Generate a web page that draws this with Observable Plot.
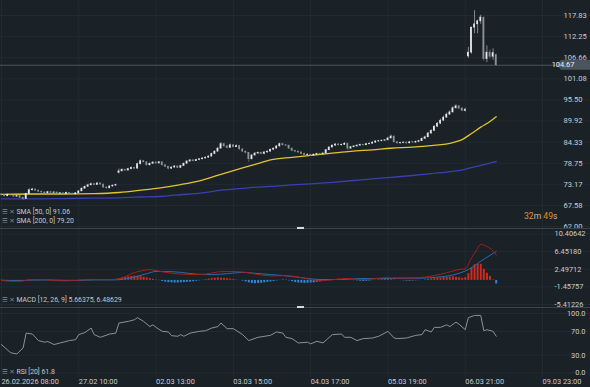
<!DOCTYPE html>
<html><head><meta charset="utf-8">
<script src="https://cdn.jsdelivr.net/npm/d3@7"></script>
<script src="https://cdn.jsdelivr.net/npm/@observablehq/plot@0.6"></script>
<style>
html,body{margin:0;padding:0;background:#1a2127;}
#chart{position:relative;width:590px;height:387px;background:#1a2127;overflow:hidden;font-family:Roboto,"DejaVu Sans",sans-serif;}
.pane{position:absolute;left:0;width:590px;}
.pane svg{display:block;background:transparent;overflow:visible;}
.sep{border-top:1px solid #3b444c;}
.handle{position:absolute;left:297px;width:7px;height:2px;background:#d8dcdf;}
.leg{position:absolute;left:2px;font-size:6.9px;color:#c3c8cd;white-space:pre;line-height:8px;}
.leg .ic{color:#858c93;font-size:6.4px;}
#timer{position:absolute;left:524px;top:211px;font-size:8.6px;line-height:11px;white-space:pre;}
</style></head><body><div id="chart"></div>
<script>
// ---------- DATA ----------
const openP = [70.5,70.3,70.0,70.4,70.2,69.9,70.1,69.6,69.3,70.6,71.6,71.8,71.5,71.2,71.0,70.8,71.1,70.9,71.0,70.7,
70.8,70.6,70.9,70.7,70.5,70.8,71.3,72.0,72.5,72.9,73.2,73.0,73.4,73.1,72.3,72.1,72.6,72.8,76.2,76.6,
77.0,76.8,77.2,77.5,77.3,78.5,79.3,79.0,78.2,78.6,78.9,78.7,79.0,78.2,77.8,77.3,77.6,77.9,77.5,78.0,
78.6,79.2,79.5,79.3,79.6,79.8,80.0,80.2,80.5,81.2,81.8,82.6,83.8,83.2,82.8,83.5,83.0,83.3,82.4,81.8,
81.5,79.8,80.8,81.3,81.5,81.2,81.6,81.8,82.3,82.6,83.2,83.8,83.5,83.4,82.6,82.0,81.8,81.6,81.2,80.9,
81.0,80.8,81.0,81.2,81.1,81.3,82.2,82.9,83.4,83.7,83.5,83.6,83.9,82.6,83.0,83.2,83.4,83.6,83.5,83.8,
83.9,84.2,84.5,84.6,84.7,84.8,85.3,85.8,84.3,84.0,84.1,84.2,84.0,84.3,84.2,84.4,84.6,85.2,85.6,86.6,
87.3,88.4,89.2,90.0,90.8,91.6,92.2,93.3,93.8,93.2,92.6,107.0,108.0,114.6,115.5,116.3,117.2,106.3,108.0,106.9,
107.4];
const highP = [70.7,70.5,70.6,70.6,70.3,70.3,70.2,69.8,70.8,72.0,72.1,71.9,71.6,71.4,71.2,71.3,71.2,71.2,71.1,71.0,
70.9,71.1,71.0,70.8,71.0,71.5,72.2,72.7,73.2,73.5,73.4,73.6,73.5,73.2,72.5,72.8,73.0,73.2,77.2,77.3,
77.2,77.4,77.8,77.7,78.8,79.6,79.5,79.1,78.8,79.2,79.1,79.2,79.1,78.4,77.9,77.8,78.1,78.0,78.2,78.8,
79.4,79.7,79.7,79.8,80.0,80.2,80.4,80.7,81.4,82.0,82.9,84.2,84.0,83.4,83.8,83.7,83.6,83.4,82.6,82.0,
81.6,81.0,81.5,81.7,81.7,81.8,82.0,82.5,82.8,83.4,84.1,84.0,83.7,83.5,82.8,82.2,82.0,81.7,81.4,81.2,
81.1,81.2,81.4,81.4,81.5,82.4,83.1,83.6,83.9,83.9,83.8,84.2,84.0,83.2,83.4,83.6,83.8,83.8,84.0,84.1,
84.4,84.7,84.8,84.9,85.0,85.6,86.2,85.9,84.5,84.3,84.4,84.4,84.5,84.5,84.6,84.8,85.4,85.9,86.9,87.6,
88.7,89.5,90.4,91.2,92.0,92.6,93.7,94.2,94.0,93.5,93.3,109.4,114.8,119.1,116.6,117.9,117.5,109.8,108.7,109.0,
107.6];
const lowP = [70.1,69.8,69.9,70.0,69.7,69.7,69.4,68.9,69.2,70.5,71.4,71.3,71.0,70.8,70.6,70.7,70.7,70.8,70.5,70.6,
70.4,70.5,70.5,70.3,70.4,70.7,71.2,71.9,72.4,72.8,72.8,72.9,72.9,72.1,71.9,72.0,72.4,72.7,75.9,76.4,
76.5,76.7,77.0,77.1,77.2,78.3,78.8,78.0,78.0,78.4,78.5,78.5,78.0,77.6,77.0,77.1,77.4,77.3,77.4,77.9,
78.5,79.0,79.1,79.2,79.4,79.6,79.9,80.1,80.4,81.0,81.7,82.5,83.0,82.5,82.7,82.8,82.9,82.2,81.6,81.2,
79.0,79.6,80.6,81.1,81.0,81.0,81.4,81.7,82.1,82.5,83.0,83.3,83.1,82.4,81.8,81.5,81.3,81.0,80.6,80.7,
80.5,80.6,80.9,80.9,81.0,81.2,82.0,82.8,83.2,83.3,83.3,83.5,82.0,82.4,82.8,83.0,83.2,83.3,83.4,83.6,
83.8,84.0,84.3,84.4,84.5,84.7,85.2,84.1,83.8,83.8,83.9,83.8,83.9,84.0,84.0,84.2,84.5,85.0,85.5,86.4,
87.1,88.2,89.0,89.8,90.6,91.4,92.0,93.0,92.9,92.4,92.3,106.5,107.6,113.0,113.0,115.5,105.8,105.4,106.3,106.0,
104.4];
const closeP = [70.3,70.0,70.4,70.2,69.9,70.1,69.6,69.3,70.6,71.6,71.8,71.5,71.2,71.0,70.8,71.1,70.9,71.0,70.7,70.8,
70.6,70.9,70.7,70.5,70.8,71.3,72.0,72.5,72.9,73.2,73.0,73.4,73.1,72.3,72.1,72.6,72.8,73.0,76.6,77.0,
76.8,77.2,77.5,77.3,78.5,79.3,79.0,78.2,78.6,78.9,78.7,79.0,78.2,77.8,77.3,77.6,77.9,77.5,78.0,78.6,
79.2,79.5,79.3,79.6,79.8,80.0,80.2,80.5,81.2,81.8,82.6,83.8,83.2,82.8,83.5,83.0,83.3,82.4,81.8,81.5,
79.8,80.8,81.3,81.5,81.2,81.6,81.8,82.3,82.6,83.2,83.8,83.5,83.4,82.6,82.0,81.8,81.6,81.2,80.9,81.0,
80.8,81.0,81.2,81.1,81.3,82.2,82.9,83.4,83.7,83.5,83.6,83.9,82.6,83.0,83.2,83.4,83.6,83.5,83.8,83.9,
84.2,84.5,84.6,84.7,84.8,85.3,85.8,84.3,84.0,84.1,84.2,84.0,84.3,84.2,84.4,84.6,85.2,85.6,86.6,87.3,
88.4,89.2,90.0,90.8,91.6,92.2,93.3,93.8,93.2,92.6,92.9,108.0,114.6,115.5,116.3,117.3,106.3,108.0,106.9,107.9,
104.67];
const lastPrice = 104.67;

const smaIdx = [0,10,20,30,38,45,52,58,65,71,78,84,87,94,100,107,113,120,126,133,139,146,149,152,155,158,160];
const sma50  = [70.5,70.6,70.6,70.7,71.0,71.6,72.3,73.1,74.3,75.8,77.5,78.9,79.6,80.3,80.8,81.4,81.9,82.3,82.7,83.0,83.4,84.2,85.0,86.6,88.3,89.8,91.06];
const sma200 = [69.3,69.3,69.4,69.5,69.6,69.8,70.0,70.4,70.9,71.6,72.1,72.5,72.6,73.0,73.3,73.7,74.1,74.6,75.0,75.5,76.0,76.6,77.0,77.6,78.2,78.8,79.20];

const macdHist = [0.05,0.02,-0.03,-0.15,-0.2,-0.22,-0.2,-0.15,0.05,0.12,0.18,0.2,0.18,0.12,0.05,-0.02,-0.08,-0.1,
-0.15,-0.18,-0.2,-0.15,-0.1,-0.05,0.0,0.05,0.08,0.12,0.18,0.22,0.2,0.18,0.12,0.08,0.02,-0.02,-0.03,0.02,
0.35,0.55,0.7,0.8,0.9,0.95,0.9,0.85,0.7,0.55,0.4,0.25,0.1,-0.05,
-0.25,-0.4,-0.5,-0.55,-0.6,-0.58,-0.55,-0.5,-0.45,-0.4,-0.3,-0.2,-0.1,
0.05,0.15,0.3,0.4,0.5,0.55,0.5,0.45,0.4,0.3,0.2,0.1,0.02,
-0.15,-0.35,-0.55,-0.7,-0.75,-0.72,-0.65,-0.55,-0.45,-0.35,-0.25,-0.12,0.05,0.15,0.1,
-0.1,-0.3,-0.5,-0.6,-0.65,-0.68,-0.65,-0.6,-0.55,-0.45,-0.35,-0.2,-0.05,
0.05,0.15,0.2,0.25,0.2,0.15,0.05,0.02,-0.05,-0.1,-0.2,-0.25,-0.2,-0.15,-0.05,
0.05,0.12,0.18,0.2,0.2,0.15,0.08,0.02,-0.05,-0.1,-0.15,-0.18,-0.15,-0.1,-0.05,0.0,
0.1,0.2,0.3,0.4,0.5,0.55,0.65,0.7,0.75,0.8,0.7,0.6,0.5,0.6,
1.5,2.8,3.5,3.6,3.6,2.5,1.6,0.9,0.1,-0.82];
const macdIdx = [0,3,6,10,14,17,21,26,30,35,38,40,42,45,48,50,53,58,63,66,70,74,79,84,88,91,95,97,101,103,108,112,116,120,124,129,135,140,144,148,150,152,154,155,157,159,160];
const macdVal = [0.0,-0.2,-0.2,0.2,0.2,-0.05,-0.1,0.1,0.2,0.15,0.4,0.8,1.5,2.1,2.4,2.2,1.8,1.4,1.3,1.4,1.9,2.0,1.8,1.2,1.0,1.05,0.9,0.6,0.1,-0.1,0.2,0.45,0.15,0.3,0.6,0.5,0.6,1.1,1.7,2.45,2.6,5.0,7.2,8.1,7.6,6.6,5.66];
const sigIdx = [0,5,10,15,20,25,30,37,42,47,50,53,58,63,68,73,78,82,87,91,97,103,110,116,123,129,136,141,146,150,152,155,158,160];
const sigVal = [0.05,-0.05,0.05,0.1,0.0,0.0,0.1,0.12,0.6,1.5,2.0,2.0,1.8,1.4,1.3,1.5,1.8,1.6,1.3,1.1,0.6,0.2,0.2,0.4,0.4,0.5,0.5,0.75,1.2,2.1,2.8,4.3,5.6,6.49];

const rsiIdx = [0,3,5,7,8,10,12,14,15,17,19,22,24,25,27,29,30,32,35,37,38,41,43,44,46,48,49,50,52,54,55,57,58,59,61,64,66,68,70,71,73,75,78,80,83,87,89,91,92,94,96,99,100,102,104,107,110,111,113,115,117,120,122,125,127,128,131,134,136,137,139,140,142,144,145,147,148,150,151,153,155,156,157,159,160];
const rsiVal = [47.8,34,32,42,67,65.5,54.5,51.7,53,47.8,50.5,54.5,56,64.5,68,75.5,64.5,60,65.5,67,84,86.7,89.5,93,86.7,78,81,76.7,70,69,62.8,61.7,64.5,61.7,67,70,71,75.5,78,84,74.5,74.5,64.5,54.5,60,63.3,69,67,60,57.8,50.5,51.7,49,53.3,50.5,64.5,65.5,60,60,54.5,57.8,58.8,61.7,70,58.8,57.8,58.8,63.3,64.5,72.8,69,76.7,76.7,81,78,85.5,82,72.8,93,96.7,96.7,71,72.8,70,61.8];

const priceTicks = [62.00,67.58,73.17,78.75,84.33,89.92,95.50,101.08,106.66,112.25,117.83];
const priceTickLabels = ["62.00","67.58","73.17","78.75","84.33","89.92","95.50","101.08","106.66","112.25","117.83"];
const macdTicks = [10.40642,6.45180,2.49712,-1.45757,-5.41226];
const macdTickLabels = ["10.40642","6.45180","2.49712","-1.45757","-5.41226"];
const rsiTicks = [100,70,30,0];
const rsiTickLabels = ["100.0","70.0","30.0","0.0"];
const timeIdx = [0,25,50,75,100,125,150,175];
const timeLabels = ["26.02.2026 08:00","27.02 10:00","02.03 13:00","03.03 15:00","04.03 17:00","05.03 19:00","06.03 21:00","09.03 23:00"];

// ---------- STYLE ----------
const GRID = "#222b33";
const TXT = "#c8cdd2";
const FONT = "Roboto, 'DejaVu Sans', sans-serif";
const X = {domain: [-0.3, 190.5], range: [0, 590], axis: null};
const baseStyle = {background: "transparent", color: TXT, fontFamily: FONT};

const bars = openP.map((o, i) => ({i, o, h: highP[i], l: lowP[i], c: closeP[i]}));
const s50 = smaIdx.map((i, k) => ({i, v: sma50[k]}));
const s200 = smaIdx.map((i, k) => ({i, v: sma200[k]}));
const hist = macdHist.map((v, i) => ({i, v}));
const macdL = macdIdx.map((i, k) => ({i, v: macdVal[k]}));
const sigL = sigIdx.map((i, k) => ({i, v: sigVal[k]}));
const rsiL = rsiIdx.map((i, k) => ({i, v: rsiVal[k]}));

const chart = document.getElementById("chart");
function addPane(svg, top, cls) {
  const d = document.createElement("div");
  d.className = "pane" + (cls ? " " + cls : "");
  d.style.top = top + "px";
  d.appendChild(svg);
  chart.appendChild(d);
  return d;
}

// ---------- PRICE PANE ----------
const price = Plot.plot({
  width: 590, height: 228, margin: 0, style: baseStyle,
  x: X,
  y: {domain: [62, 117.83], range: [226, 15], axis: null},
  marks: [
    Plot.ruleY(priceTicks, {stroke: GRID}),
    Plot.ruleX(timeIdx, {stroke: GRID}),
    Plot.ruleY([lastPrice], {stroke: "#4a545d"}),
    Plot.line(s200, {x: "i", y: "v", stroke: "#3b3fb0", strokeWidth: 1.3, curve: "monotone-x"}),
    Plot.line(s50, {x: "i", y: "v", stroke: "#e3c32e", strokeWidth: 1.3, curve: "monotone-x"}),
    Plot.ruleX(bars, {x: "i", y1: "l", y2: "h", stroke: d => d.c >= d.o ? "#aeb4ba" : "#737b83", strokeWidth: 0.7}),
    Plot.rect(bars, {x1: d => d.i - 0.28, x2: d => d.i + 0.28,
      y1: d => Math.min(d.o, d.c), y2: d => Math.max(d.o, d.c),
      fill: d => d.c >= d.o ? "#e6e9ec" : "#8b9399", insetTop: -0.3, insetBottom: -0.3}),
    Plot.text(priceTicks, {y: d => d, text: (d, k) => priceTickLabels[k], frameAnchor: "left", dx: 563,
      textAnchor: "start", fontSize: 7.6, fill: TXT})
  ]
});
addPane(price, 0);
{
  const yv = price.scale("y").apply(lastPrice);
  const g = d3.select(price).append("g");
  g.append("path").attr("d", `M557,${yv} L561,${yv-5} L590,${yv-5} L590,${yv+5} L561,${yv+5} Z`).attr("fill", "#4a545d");
  g.append("text").attr("x", 563).attr("y", yv).attr("dy", "0.34em").attr("fill", "#f0f2f4")
    .attr("font-size", 7.4).attr("font-family", FONT).text(lastPrice.toFixed(2));
}

// ---------- MACD PANE ----------
const macd = Plot.plot({
  width: 590, height: 79, margin: 0, style: baseStyle,
  x: X,
  y: {domain: [-5.41226, 10.40642], range: [75, 4.5], axis: null},
  marks: [
    Plot.ruleY(macdTicks, {stroke: GRID}),
    Plot.ruleX(timeIdx, {stroke: GRID}),
    Plot.ruleX(hist, {x: "i", y1: 0, y2: "v", stroke: d => d.v >= 0 ? "#d12a1f" : "#2f86d6", strokeWidth: 2}),
    Plot.line(sigL, {x: "i", y: "v", stroke: "#2a6bb0", strokeWidth: 1, curve: "monotone-x"}),
    Plot.line(macdL, {x: "i", y: "v", stroke: "#a51f1a", strokeWidth: 1, curve: "monotone-x"}),
    Plot.text(macdTicks, {y: d => d, text: (d, k) => macdTickLabels[k], frameAnchor: "left", dx: 554,
      textAnchor: "start", fontSize: 7.4, fill: TXT})
  ]
});
addPane(macd, 228, "sep");

// ---------- RSI PANE + TIME AXIS ----------
const rsi = Plot.plot({
  width: 590, height: 80, marginTop: 0, marginLeft: 0, marginRight: 0, marginBottom: 11, style: baseStyle,
  x: X,
  y: {domain: [0, 100], range: [64.5, 5], axis: null},
  marks: [
    Plot.ruleY(rsiTicks, {stroke: GRID}),
    Plot.ruleX(timeIdx, {stroke: GRID}),
    Plot.line(rsiL, {x: "i", y: "v", stroke: "#8a939a", strokeWidth: 1}),
    Plot.text(rsiTicks, {y: d => d, text: (d, k) => rsiTickLabels[k], frameAnchor: "right", dx: -5,
      textAnchor: "end", fontSize: 7.4, fill: TXT}),
    Plot.text(timeIdx, {x: d => d, text: (d, k) => timeLabels[k], frameAnchor: "bottom", dy: 6.5,
      textAnchor: "start", fontSize: 7.4, fill: TXT})
  ]
});
addPane(rsi, 307, "sep");

// ---------- LEGENDS / OVERLAYS ----------
function addDiv(cls, top, html) {
  const d = document.createElement("div");
  d.className = cls; d.style.top = top + "px";
  d.innerHTML = html; chart.appendChild(d); return d;
}
addDiv("leg", 208, '<span class="ic">☰ ✕</span> SMA [50, 0] 91.06');
addDiv("leg", 217, '<span class="ic">☰ ✕</span> SMA [200, 0] 79.20');
addDiv("leg", 296, '<span class="ic">☰ ✕</span> MACD [12, 26, 9] 5.66375, 6.48629');
addDiv("leg", 368, '<span class="ic">☰ ✕</span> RSI [20] 61.8');
const t = document.createElement("div");
t.id = "timer";
t.innerHTML = '<span style="color:#e58e1f">32</span><span style="color:#c9b49a">m</span> <span style="color:#e58e1f">49</span><span style="color:#c9b49a">s</span>';
chart.appendChild(t);
const h1 = document.createElement("div"); h1.className = "handle"; h1.style.top = "227px"; chart.appendChild(h1);
const h2 = document.createElement("div"); h2.className = "handle"; h2.style.top = "306px"; chart.appendChild(h2);
</script></body></html>
